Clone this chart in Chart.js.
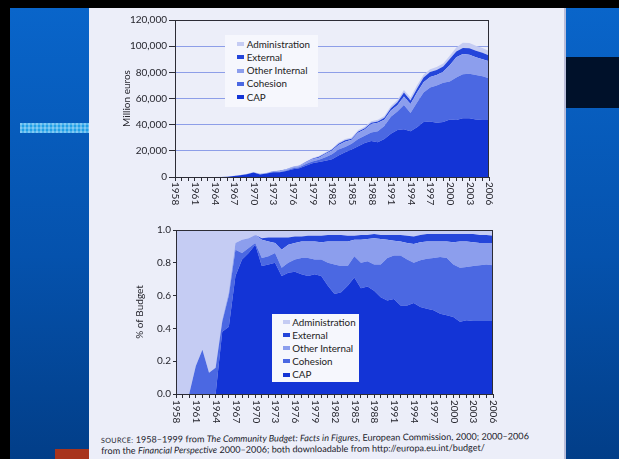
<!DOCTYPE html>
<html>
<head>
<meta charset="utf-8">
<script src="https://cdn.jsdelivr.net/npm/chart.js@4.4.0/dist/chart.umd.min.js"></script>
<style>
  body { margin: 0; width: 619px; height: 459px; background: #000; position: relative; overflow: hidden; font-family: Lato, "Open Sans", sans-serif; }
  .abs { position: absolute; }
  #slide { left: 10px; top: 8px; width: 609px; height: 451px; background: linear-gradient(#0965ca, #0552ad 55%, #023e88); }
  #navy { left: 566px; top: 57px; width: 53px; height: 51px; background: #00112a; }
  #strip { left: 20px; top: 123px; width: 69px; height: 10px; background-color: #1f9fe8;
    background-image: linear-gradient(90deg, rgba(255,255,255,.28) 50%, transparent 50%), linear-gradient(rgba(255,255,255,.22) 50%, transparent 50%);
    background-size: 4px 4px; }
  #red { left: 55px; top: 449px; width: 34px; height: 10px; background: #a8341c; }
  #page { left: 89px; top: 8px; width: 475px; height: 451px; background: #eceef9; border-right: 2px solid #b9bdd9; }
  .wrap { position: absolute; width: 390px; height: 205px; }
  .legend { position: absolute; background: #f6f7fd; font-size: 9.8px; color: #222; }
  .legend .row { position: relative; white-space: nowrap; }
  .legend .mk { position: absolute; top: 4.6px; width: 7px; height: 4px; }
  #source { left: 101px; top: 435px; font-size: 9.1px; line-height: 9.6px; color: #1b1b2b; transform: rotate(-0.5deg); transform-origin: left top; white-space: nowrap; }
  #source .sc { font-size: 7.2px; letter-spacing: .3px; }
</style>
</head>
<body>
<div class="abs" id="slide"></div>
<div class="abs" id="navy"></div>
<div class="abs" id="strip"></div>
<div class="abs" id="red"></div>
<div class="abs" id="page"></div>

<div class="wrap" style="left:110px; top:10px;"><canvas id="topChart"></canvas></div>
<div class="wrap" style="left:110px; top:220px;"><canvas id="botChart"></canvas></div>
<div class="legend" id="topLegend" style="left:225px; top:35px; width:93px; height:72px; padding-top:2.6px; box-sizing:border-box;"></div>
<div class="legend" id="botLegend" style="left:272px; top:314px; width:87px; height:68px; padding-top:1.6px; box-sizing:border-box;"></div>
<div class="abs" id="source">
  <span class="sc">SOURCE:</span> 1958–1999 from <i>The Community Budget: Facts in Figures</i>, European Commission, 2000; 2000–2006<br>
  from the <i>Financial Perspective</i> 2000–2006; both downloadable from http://europa.eu.int/budget/
</div>

<script>
const years = [1958, 1959, 1960, 1961, 1962, 1963, 1964, 1965, 1966, 1967, 1968, 1969, 1970,
  1971, 1972, 1973, 1974, 1975, 1976, 1977, 1978, 1979, 1980, 1981, 1982, 1983, 1984, 1985,
  1986, 1987, 1988, 1989, 1990, 1991, 1992, 1993, 1994, 1995, 1996, 1997, 1998, 1999, 2000,
  2001, 2002, 2003, 2004, 2005, 2006];
const yearLabels = [1958, 1961, 1964, 1967, 1970, 1973, 1976, 1979, 1982, 1985, 1988, 1991,
  1994, 1997, 2000, 2003, 2006];
const seriesNames = ['CAP', 'Cohesion', 'Other Internal', 'External', 'Administration'];

// million euros
const capEuro = [0, 0, 0, 0, 0, 0, 0, 50, 100, 700, 1300, 2100, 3400, 2000, 2600, 3700, 3600, 4600,
  6000, 6600, 8600, 10600, 11500, 12500, 13500, 16500, 19000, 21000, 23500, 26000, 27500, 26500,
  29000, 33000, 36000, 36500, 35000, 38000, 42000, 42500, 41500, 42000, 44000, 43500, 45000, 45000,
  44000, 43500, 43500];
const cohesionEuro = [0, 0, 0, 10, 20, 10, 10, 10, 40, 100, 50, 70, 50, 130, 170, 280, 250, 370,
  600, 900, 1300, 1300, 1600, 2600, 3800, 4500, 4000, 4500, 5500, 5500, 6500, 8500, 10000, 13000,
  14000, 18500, 14000, 19000, 22500, 26000, 28500, 30000, 29000, 32500, 33500, 34000, 34000, 33500, 32000];
const otherEuro = [0, 0, 0, 0, 0, 0, 0, 0, 0, 30, 100, 150, 200, 280, 300, 280, 550, 680, 800, 900,
  1200, 1600, 1700, 2400, 2900, 3500, 4000, 2900, 4800, 4800, 6500, 6500, 4800, 4800, 4800, 6500,
  6800, 7500, 8000, 8000, 8000, 8500, 12500, 15500, 15500, 14500, 13500, 13000, 13000];
const externalEuro = [0, 0, 0, 0, 0, 0, 0, 0, 0, 0, 0, 0, 0, 30, 80, 160, 380, 280, 320, 270, 420,
  500, 650, 730, 800, 1000, 1000, 750, 1000, 900, 1000, 1000, 1400, 1800, 2300, 3000, 2700, 3100,
  3500, 3700, 3800, 3900, 4600, 4500, 4600, 5000, 5000, 4900, 4400];
const adminEuro = [30, 30, 40, 40, 50, 60, 60, 70, 80, 50, 100, 120, 120, 130, 150, 200, 220, 280,
  320, 360, 420, 500, 570, 600, 650, 800, 1000, 1000, 1100, 1200, 1100, 1300, 1400, 1600, 1800,
  2000, 2300, 2500, 2200, 2200, 2200, 2300, 2500, 3000, 4000, 4000, 3800, 3700, 3500];

// share of budget
const capShare = [0, 0, 0, 0, 0, 0, 0, .38, .41, .72, .82, .86, .91, .78, .79, .80, .72, .74, .745,
  .73, .72, .73, .72, .66, .61, .62, .66, .71, .645, .655, .63, .59, .57, .58, .54, .54, .555, .53,
  .52, .51, .49, .48, .47, .44, .45, .445, .445, .445, .445];
const cohesionShare = [0, 0, 0, .17, .27, .13, .16, .06, .19, .16, .04, .03, .01, .05, .05, .06, .05,
  .06, .075, .10, .11, .09, .10, .14, .18, .16, .12, .13, .155, .155, .16, .20, .26, .265, .305, .28,
  .245, .285, .305, .32, .345, .35, .32, .33, .325, .335, .34, .345, .34];
const otherShare = [0, 0, 0, 0, 0, 0, 0, .01, .02, .04, .08, .06, .05, .11, .09, .06, .11, .11, .10,
  .10, .10, .11, .105, .13, .14, .15, .15, .10, .14, .135, .16, .155, .11, .09, .085, .10, .115, .11,
  .105, .10, .095, .10, .135, .16, .155, .145, .135, .13, .135];
const externalShare = [0, 0, 0, 0, 0, 0, 0, 0, 0, 0, 0, 0, 0, .01, .025, .035, .075, .045, .04, .03,
  .035, .035, .04, .04, .04, .04, .035, .025, .03, .025, .025, .025, .03, .035, .04, .045, .045, .045,
  .045, .045, .045, .045, .05, .045, .045, .05, .05, .05, .045];
const adminShare = [1, 1, 1, .83, .73, .87, .84, .55, .38, .08, .06, .05, .03, .05, .045, .045, .045,
  .045, .04, .04, .035, .035, .035, .03, .03, .03, .035, .035, .03, .03, .025, .03, .03, .03, .03,
  .035, .04, .03, .025, .025, .025, .025, .025, .025, .025, .025, .03, .03, .035];

const colors = ['#1334d6', '#4b68e2', '#8c9eed', '#2445da', '#c5ccf3'];
const inkColor = '#26262e';
const tickFont = { family: 'Lato', size: 10 };

function makeDatasets(rows) {
  return rows.map((vals, i) => ({
    label: seriesNames[i],
    data: vals,
    backgroundColor: colors[i],
    borderWidth: 0,
    pointRadius: 0,
    tension: 0,
    fill: i === 0 ? 'origin' : '-1'
  }));
}

// year labels read downwards, and a box round the plot
const frame = {
  id: 'frame',
  afterDraw(chart) {
    const ctx = chart.ctx, a = chart.chartArea, xs = chart.scales.x;
    ctx.save();
    ctx.strokeStyle = '#2c2c36';
    ctx.lineWidth = 1;
    ctx.strokeRect(a.left + 0.5, a.top + 0.5, a.right - a.left - 1, a.bottom - a.top);
    ctx.fillStyle = inkColor;
    ctx.font = '10px Lato';
    ctx.textAlign = 'left';
    ctx.textBaseline = 'middle';
    years.forEach((y, i) => {
      if (!yearLabels.includes(y)) return;
      ctx.save();
      ctx.translate(xs.getPixelForValue(i) + 0.5, a.bottom + chart.options.labelGap);
      ctx.rotate(Math.PI / 2);
      ctx.fillText(String(y), 0, 0);
      ctx.restore();
    });
    ctx.restore();
  }
};

function makeChart(id, rows, o) {
  return new Chart(document.getElementById(id), {
    type: 'line',
    data: { labels: years, datasets: makeDatasets(rows) },
    options: {
      responsive: true,
      maintainAspectRatio: false,
      animation: false,
      labelGap: o.labelGap,
      layout: { padding: o.padding },
      plugins: { legend: { display: false }, tooltip: { enabled: false } },
      scales: {
        x: {
          afterFit: s => { s.height = o.xHeight; },
          grid: { drawOnChartArea: false, tickLength: 4, color: '#2c2c36' },
          border: { color: '#2c2c36' },
          ticks: { autoSkip: false, maxRotation: 0, callback: () => '' }
        },
        y: {
          stacked: true,
          min: 0,
          max: o.max,
          afterFit: s => { s.width = o.yWidth; },
          border: { color: '#2c2c36' },
          grid: { drawOnChartArea: o.grid, color: '#8d9ee8', tickColor: '#2c2c36', tickLength: o.tickLength },
          ticks: { stepSize: o.step, color: inkColor, font: tickFont, padding: 2, callback: o.fmt },
          title: { display: true, text: o.title, color: inkColor, font: tickFont, padding: { top: 4, bottom: 0 } }
        }
      }
    },
    plugins: [frame]
  });
}

makeChart('topChart', [capEuro, cohesionEuro, otherEuro, externalEuro, adminEuro], {
  padding: { left: 7, top: 10, right: 11, bottom: 0 }, yWidth: 58, xHeight: 38, labelGap: 5,
  max: 120000, step: 20000, grid: true, tickLength: 6, title: 'Million euros',
  fmt: v => v.toLocaleString('en-US')
});
makeChart('botChart', [capShare, cohesionShare, otherShare, externalShare, adminShare], {
  padding: { left: 20, top: 10, right: 7, bottom: 0 }, yWidth: 46, xHeight: 31, labelGap: 6,
  max: 1, step: 0.2, grid: false, tickLength: 3, title: '% of Budget',
  fmt: v => v.toFixed(1)
});

function buildLegend(id, markLeft, textLeft, rowH) {
  const box = document.getElementById(id);
  for (let i = seriesNames.length - 1; i >= 0; i--) {
    const row = document.createElement('div');
    row.className = 'row';
    row.style.height = rowH + 'px';
    row.style.lineHeight = rowH + 'px';
    row.innerHTML = '<span class="mk" style="left:' + markLeft + 'px;background:' + colors[i] + '"></span>' +
      '<span style="position:absolute;left:' + textLeft + 'px">' + seriesNames[i] + '</span>';
    box.appendChild(row);
  }
}
buildLegend('topLegend', 11.7, 21.7, 13.3);
buildLegend('botLegend', 11.3, 20.3, 13.1);
</script>
</body>
</html>
